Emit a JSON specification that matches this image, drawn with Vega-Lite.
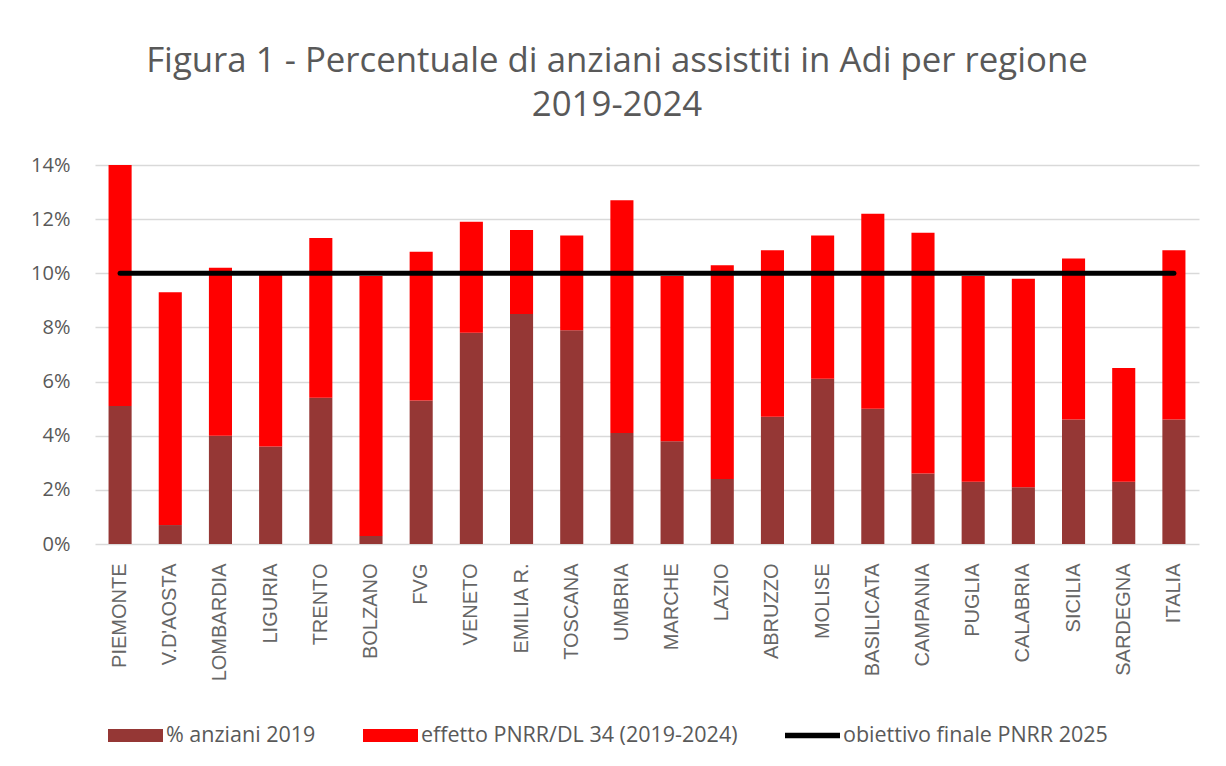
{
  "$schema": "https://vega.github.io/schema/vega-lite/v6.json",
  "autosize": {"type": "none"},
  "width": 1104,
  "height": 379,
  "padding": {"left": 95, "top": 165, "right": 27, "bottom": 222},
  "background": "white",
  "title": {
    "text": ["Figura 1 - Percentuale di anziani assistiti in Adi per regione", "2019-2024"],
    "font": "Open Sans",
    "fontSize": 34.8,
    "fontWeight": "normal",
    "color": "#595959",
    "anchor": "middle",
    "frame": "group",
    "dx": -30,
    "offset": 31,
    "lineHeight": 44
  },
  "data": {
    "values": [
      {"regione": "PIEMONTE", "anziani2019": 5.1, "effetto": 8.9, "obiettivo": 10},
      {"regione": "V.D'AOSTA", "anziani2019": 0.7, "effetto": 8.6, "obiettivo": 10},
      {"regione": "LOMBARDIA", "anziani2019": 4.0, "effetto": 6.2, "obiettivo": 10},
      {"regione": "LIGURIA", "anziani2019": 3.6, "effetto": 6.35, "obiettivo": 10},
      {"regione": "TRENTO", "anziani2019": 5.4, "effetto": 5.9, "obiettivo": 10},
      {"regione": "BOLZANO", "anziani2019": 0.3, "effetto": 9.6, "obiettivo": 10},
      {"regione": "FVG", "anziani2019": 5.3, "effetto": 5.5, "obiettivo": 10},
      {"regione": "VENETO", "anziani2019": 7.8, "effetto": 4.1, "obiettivo": 10},
      {"regione": "EMILIA R.", "anziani2019": 8.5, "effetto": 3.1, "obiettivo": 10},
      {"regione": "TOSCANA", "anziani2019": 7.9, "effetto": 3.5, "obiettivo": 10},
      {"regione": "UMBRIA", "anziani2019": 4.1, "effetto": 8.6, "obiettivo": 10},
      {"regione": "MARCHE", "anziani2019": 3.8, "effetto": 6.1, "obiettivo": 10},
      {"regione": "LAZIO", "anziani2019": 2.4, "effetto": 7.9, "obiettivo": 10},
      {"regione": "ABRUZZO", "anziani2019": 4.7, "effetto": 6.15, "obiettivo": 10},
      {"regione": "MOLISE", "anziani2019": 6.1, "effetto": 5.3, "obiettivo": 10},
      {"regione": "BASILICATA", "anziani2019": 5.0, "effetto": 7.2, "obiettivo": 10},
      {"regione": "CAMPANIA", "anziani2019": 2.6, "effetto": 8.9, "obiettivo": 10},
      {"regione": "PUGLIA", "anziani2019": 2.3, "effetto": 7.6, "obiettivo": 10},
      {"regione": "CALABRIA", "anziani2019": 2.1, "effetto": 7.7, "obiettivo": 10},
      {"regione": "SICILIA", "anziani2019": 4.6, "effetto": 5.95, "obiettivo": 10},
      {"regione": "SARDEGNA", "anziani2019": 2.3, "effetto": 4.2, "obiettivo": 10},
      {"regione": "ITALIA", "anziani2019": 4.6, "effetto": 6.25, "obiettivo": 10}
    ]
  },
  "encoding": {
    "x": {
      "field": "regione",
      "type": "nominal",
      "sort": null,
      "title": null,
      "scale": {"paddingInner": 0.54, "paddingOuter": 0.27},
      "axis": {
        "labelAngle": -90,
        "labelAlign": "right",
        "labelBaseline": "middle",
        "labelFont": "Liberation Sans",
        "labelFontSize": 20,
        "labelColor": "#666666",
        "labelPadding": 19,
        "labelLimit": 300,
        "ticks": false,
        "domain": false,
        "grid": false
      }
    }
  },
  "layer": [
    {
      "transform": [
        {"fold": ["anziani2019", "effetto"], "as": ["chiave", "valore"]},
        {"lookup": "chiave", "from": {"data": {"values": [
          {"chiave": "anziani2019", "serie": "% anziani 2019", "ordine": 1},
          {"chiave": "effetto", "serie": "effetto PNRR/DL 34 (2019-2024)", "ordine": 2}
        ]}, "key": "chiave", "fields": ["serie", "ordine"]}}
      ],
      "mark": {"type": "bar"},
      "encoding": {
        "y": {
          "field": "valore",
          "type": "quantitative",
          "stack": "zero",
          "title": null,
          "scale": {"domain": [0, 14], "nice": false},
          "axis": {
            "values": [0, 2, 4, 6, 8, 10, 12, 14],
            "labelExpr": "datum.value + '%'",
            "labelFont": "Open Sans",
            "labelFontSize": 20,
            "labelColor": "#595959",
            "labelPadding": 25,
            "ticks": false,
            "domain": false,
            "gridColor": "#d9d9d9",
            "gridWidth": 1.5
          }
        },
        "order": {"field": "ordine", "type": "quantitative"},
        "color": {
          "field": "serie",
          "type": "nominal",
          "scale": {
            "domain": ["% anziani 2019", "effetto PNRR/DL 34 (2019-2024)", "obiettivo finale PNRR 2025"],
            "range": ["#953735", "#ff0000", "#000000"]
          },
          "legend": {
            "title": null,
            "orient": "none",
            "direction": "horizontal",
            "legendX": 13,
            "legendY": 543,
            "columnPadding": 47,
            "symbolSize": 3025,
            "symbolType": "M-1,-0.235H1V0.235H-1Z",
            "labelFont": "Open Sans",
            "labelFontSize": 21.5,
            "labelColor": "#595959",
            "labelOffset": 3,
            "labelLimit": 500,
            "encode": {
              "symbols": {
                "update": {
                  "shape": {"signal": "datum.value === 'obiettivo finale PNRR 2025' ? 'M-1,-0.1H1V0.1H-1Z' : 'M-1,-0.235H1V0.235H-1Z'"},
                  "fill": {"signal": "scale('color', datum.value)"},
                  "strokeWidth": {"value": 0},
                  "opacity": {"value": 1}
                }
              }
            }
          }
        }
      }
    },
    {
      "mark": {"type": "line", "strokeWidth": 5, "strokeCap": "round"},
      "encoding": {
        "y": {"field": "obiettivo", "type": "quantitative"},
        "color": {"datum": "obiettivo finale PNRR 2025", "type": "nominal"}
      }
    }
  ],
  "config": {
    "view": {"stroke": null}
  }
}
